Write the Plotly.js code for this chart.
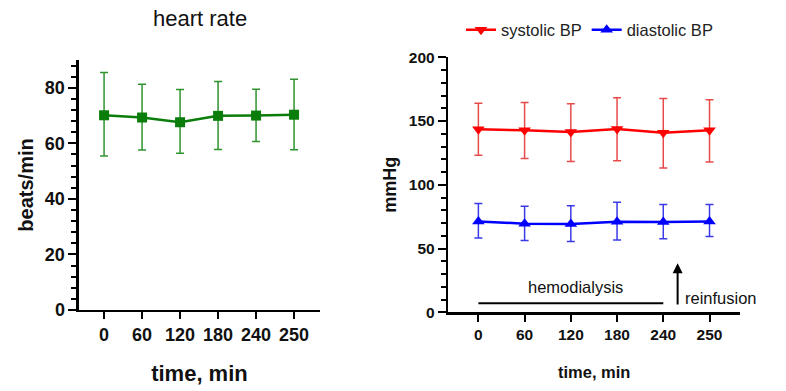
<!DOCTYPE html>
<html>
<head>
<meta charset="utf-8">
<script src="https://cdn.plot.ly/plotly-3.0.1.min.js"></script>
<style>html,body{margin:0;padding:0;background:#fff;}#chart{width:786px;height:391px;}</style>
</head>
<body>
<div id="chart"></div>
<script>
// ---- data ----
const times = ['0', '60', '120', '180', '240', '250'];

const hrMean  = [70.1, 69.3, 67.6, 69.9, 70.0, 70.3];
const hrUpper = [85.5, 81.3, 79.4, 82.3, 79.5, 83.1];
const hrLower = [55.4, 57.6, 56.4, 57.8, 60.7, 57.7];

const sysMean  = [143.5, 142.8, 141.4, 143.8, 140.9, 142.8];
const sysUpper = [164.0, 164.6, 163.5, 168.2, 167.7, 166.6];
const sysLower = [123.1, 120.7, 118.3, 118.9, 113.1, 117.8];

const diaMean  = [71.3, 69.5, 69.3, 71.1, 70.9, 71.3];
const diaUpper = [85.3, 83.2, 83.5, 86.3, 84.5, 84.5];
const diaLower = [58.3, 56.4, 55.6, 56.7, 57.7, 59.5];

const plus  = (u, m) => u.map((v, i) => v - m[i]);
const minus = (l, m) => l.map((v, i) => m[i] - v);

const ARIAL = 'Liberation Sans, Arial, sans-serif';

const traces = [
  {
    x: times, y: hrMean, xaxis: 'x', yaxis: 'y', type: 'scatter', mode: 'lines+markers',
    name: 'heart rate', showlegend: false,
    line: {color: '#0a7d0a', width: 2.5},
    marker: {symbol: 'square', size: 10, color: '#0a7d0a'},
    error_y: {type: 'data', symmetric: false, array: plus(hrUpper, hrMean), arrayminus: minus(hrLower, hrMean),
              color: '#2f942f', thickness: 1.5, width: 4}
  },
  {
    x: times, y: sysMean, xaxis: 'x2', yaxis: 'y2', type: 'scatter', mode: 'lines+markers',
    name: 'systolic BP',
    line: {color: '#ff0000', width: 2.5},
    marker: {symbol: 'triangle-down', size: 11, color: '#ff0000'},
    error_y: {type: 'data', symmetric: false, array: plus(sysUpper, sysMean), arrayminus: minus(sysLower, sysMean),
              color: '#e84a4a', thickness: 1.5, width: 4}
  },
  {
    x: times, y: diaMean, xaxis: 'x2', yaxis: 'y2', type: 'scatter', mode: 'lines+markers',
    name: 'diastolic BP',
    line: {color: '#0000ff', width: 2.5},
    marker: {symbol: 'triangle-up', size: 11, color: '#0000ff'},
    error_y: {type: 'data', symmetric: false, array: plus(diaUpper, diaMean), arrayminus: minus(diaLower, diaMean),
              color: '#3a3ae8', thickness: 1.5, width: 4}
  }
];

const axisCommon = {
  showgrid: false, zeroline: false, showline: true, linecolor: '#000', linewidth: 2.5,
  ticks: 'outside', tickcolor: '#000', tickwidth: 2, ticklen: 7, fixedrange: true
};

const layout = {
  width: 786, height: 391,
  margin: {l: 0, r: 0, t: 0, b: 0},
  paper_bgcolor: '#fff', plot_bgcolor: '#fff',
  showlegend: true,
  legend: {orientation: 'h', x: 0.5865, xanchor: 'left', y: 0.968, yanchor: 'top',
           font: {family: ARIAL, size: 16.5, color: '#222'}, itemwidth: 30, bgcolor: 'rgba(0,0,0,0)'},
  xaxis: Object.assign({}, axisCommon, {
    domain: [0.1005, 0.407], anchor: 'y', type: 'category', range: [-0.66, 5.68],
    tickfont: {family: ARIAL, size: 18, color: '#111', weight: 'bold'},
    title: {text: 'time, min', font: {family: ARIAL, size: 22, color: '#111', weight: 'bold'}, standoff: 22}
  }),
  yaxis: Object.assign({}, axisCommon, {
    domain: [0.2072, 0.8465], anchor: 'x', range: [0, 90], tickvals: [0, 20, 40, 60, 80],
    ticklen: 8,
    minor: {dtick: 4, ticks: 'outside', ticklen: 5, tickcolor: '#000', tickwidth: 2},
    tickfont: {family: ARIAL, size: 18, color: '#111', weight: 'bold'},
    title: {text: 'beats/min', font: {family: ARIAL, size: 20, color: '#111', weight: 'bold'}, standoff: 6}
  }),
  xaxis2: Object.assign({}, axisCommon, {
    domain: [0.5704, 0.9415], anchor: 'y2', type: 'category', range: [-0.65, 5.66],
    tickfont: {family: ARIAL, size: 15.5, color: '#111', weight: 'bold'},
    title: {text: 'time, min', font: {family: ARIAL, size: 16.5, color: '#111', weight: 'bold'}, standoff: 24}
  }),
  yaxis2: Object.assign({}, axisCommon, {
    domain: [0.2013, 0.8535], anchor: 'x2', range: [0, 200], tickvals: [0, 50, 100, 150, 200],
    ticklen: 8,
    minor: {dtick: 10, ticks: 'outside', ticklen: 5, tickcolor: '#000', tickwidth: 2},
    tickfont: {family: ARIAL, size: 15.5, color: '#111', weight: 'bold'},
    title: {text: 'mmHg', font: {family: ARIAL, size: 18, color: '#111', weight: 'bold'}, standoff: 8}
  }),
  shapes: [
    {type: 'line', xref: 'x2', yref: 'y2', x0: 0, x1: 4, y0: 7, y1: 7, line: {color: '#000', width: 2}}
  ],
  annotations: [
    {text: 'heart rate', xref: 'paper', yref: 'paper', x: 200 / 786, y: 1 - 18 / 391, xanchor: 'center', yanchor: 'middle',
     showarrow: false, font: {family: ARIAL, size: 22, color: '#111'}},
    {text: 'hemodialysis', xref: 'x2', yref: 'y2', x: 2.11, y: 20, xanchor: 'center', yanchor: 'middle',
     showarrow: false, font: {family: ARIAL, size: 16.5, color: '#111'}},
    {text: 'reinfusion', xref: 'x2', yref: 'y2', x: 4.42, y: 11.5, xanchor: 'left', yanchor: 'middle',
     showarrow: false, font: {family: ARIAL, size: 16.5, color: '#111'}},
    {text: '', xref: 'x2', yref: 'y2', x: 4.31, y: 38.5, axref: 'x2', ayref: 'y2', ax: 4.31, ay: 5,
     showarrow: true, arrowhead: 2, arrowsize: 1, arrowwidth: 2, arrowcolor: '#000'}
  ]
};

Plotly.newPlot('chart', traces, layout, {displayModeBar: false, staticPlot: true});
</script>
</body>
</html>
